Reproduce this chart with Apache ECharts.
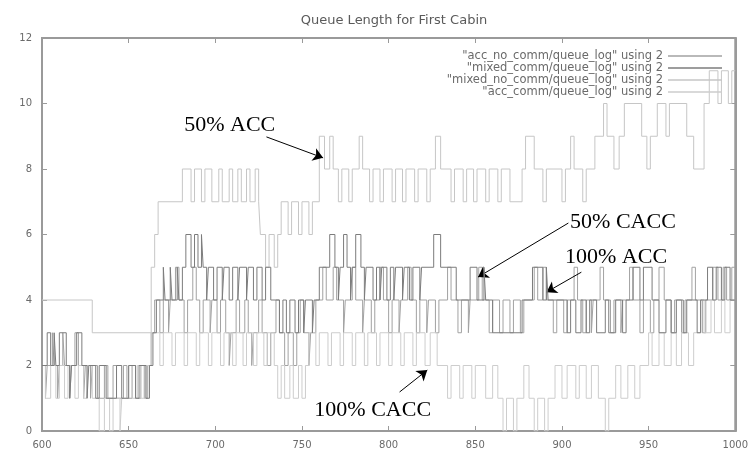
<!DOCTYPE html>
<html>
<head>
<meta charset="utf-8">
<script src="https://cdn.jsdelivr.net/npm/echarts@6/dist/echarts.min.js"></script>
<style>html,body{margin:0;padding:0;background:#fff;}#c{width:751px;height:463px;}</style>
</head>
<body>
<div id="c"></div>
<script>
var titleText = 'Queue Length for First Cabin';
var seriesNames = [
  '"acc_no_comm/queue_log" using 2',
  '"mixed_comm/queue_log" using 2',
  '"mixed_no_comm/queue_log" using 2',
  '"acc_comm/queue_log" using 2'
];
var xTicks = {min: 600, max: 1000, step: 50};
var yTicks = {min: 0, max: 12, step: 2};

// [time, queue length] change points (value holds until next point)
var accNoComm = [[600,2],[602,1],[603,2],[606,3],[607,2],[609,1],[610,2],[612,3],[613,2],[616,1],[617,2],[619,3],[621,2],[624,1],[625,2],[628,1],[629,2],[632,1],[636,2],[638,1],[641,2],[643,1],[647,2],[649,1],[652,2],[654,1],[657,2],[659,1],[661,2],[663,3],[665,4],[668,3],[670,4],[673,3],[674,4],[677,5],[679,4],[682,3],[684,4],[687,5],[689,4],[691,3],[693,4],[697,3],[698,4],[701,3],[703,4],[706,3],[708,2],[709,3],[712,4],[714,3],[717,4],[719,3],[721,2],[722,3],[725,4],[727,3],[730,2],[732,3],[735,4],[737,3],[740,2],[742,3],[745,2],[747,3],[749,4],[751,3],[754,2],[755,3],[758,4],[762,5],[764,4],[768,5],[770,4],[774,3],[775,4],[779,5],[781,4],[785,3],[786,4],[790,3],[792,4],[795,5],[797,4],[800,3],[802,4],[806,3],[807,4],[811,5],[813,4],[816,3],[818,4],[822,3],[823,4],[827,3],[829,4],[834,5],[836,4],[840,3],[842,4],[846,3],[847,4],[852,5],[854,4],[858,3],[860,4],[864,3],[866,4],[870,3],[872,4],[876,3],[878,4],[884,5],[886,4],[889,5],[891,4],[895,3],[897,4],[901,3],[903,4],[907,5],[909,4],[912,3],[914,4],[917,3],[918,4],[922,5],[924,4],[928,3],[930,4],[934,3],[935,4],[939,5],[941,4],[945,3],[947,4],[951,3],[953,4],[956,5],[959,4],[963,3],[965,4],[969,3],[971,4],[975,5],[977,4],[981,3],[983,4],[987,5],[990,4],[993,5],[995,4],[998,5],[1000,5]];

var mixedComm = [[600,2],[603,3],[605,2],[607,3],[608,2],[610,3],[614,2],[616,1],[617,2],[620,3],[623,2],[626,1],[627,2],[631,1],[633,2],[637,1],[643,2],[646,1],[650,2],[654,1],[656,2],[660,1],[662,2],[664,3],[666,4],[670,5],[671,4],[674,5],[675,4],[678,5],[679,4],[681,5],[683,6],[686,5],[688,6],[690,5],[692,6],[693,5],[695,4],[696,5],[699,4],[701,5],[704,4],[705,5],[708,4],[710,5],[713,4],[714,5],[718,4],[719,5],[722,4],[724,5],[727,4],[729,5],[732,4],[737,3],[739,4],[741,3],[743,4],[746,3],[748,4],[751,3],[752,4],[756,3],[757,4],[760,5],[766,6],[769,5],[771,4],[772,5],[774,6],[776,5],[778,4],[779,5],[781,6],[784,5],[786,4],[787,5],[791,4],[793,5],[795,4],[796,5],[799,4],[801,5],[803,4],[804,5],[808,4],[809,5],[812,4],[814,5],[818,4],[819,5],[826,6],[830,5],[839,4],[847,5],[851,4],[855,5],[856,4],[860,3],[877,4],[883,5],[889,4],[891,5],[892,4],[903,3],[905,4],[908,3],[911,4],[914,3],[916,4],[920,3],[925,4],[927,3],[931,4],[935,3],[937,4],[941,5],[945,4],[947,5],[952,4],[956,3],[960,4],[963,3],[966,4],[970,3],[972,4],[978,3],[980,4],[984,5],[987,4],[989,5],[992,4],[994,5],[997,4],[1000,4]];

var mixedNoComm = [[600,4],[629,3],[663,5],[665,6],[667,7],[681,8],[686,7],[688,8],[692,7],[694,8],[698,7],[702,8],[704,7],[708,8],[710,7],[713,8],[715,7],[718,8],[720,7],[723,8],[725,7],[726,6],[729,5],[731,6],[734,5],[736,6],[738,7],[742,6],[744,7],[748,6],[750,7],[754,6],[756,7],[760,9],[763,8],[766,9],[768,8],[771,7],[773,8],[777,7],[779,8],[783,9],[785,8],[789,7],[791,8],[795,7],[797,8],[802,7],[804,8],[808,7],[810,8],[815,7],[817,8],[822,7],[824,8],[827,9],[830,8],[836,7],[838,8],[843,7],[845,8],[849,7],[851,8],[856,7],[858,8],[863,7],[865,8],[870,7],[877,8],[879,9],[884,8],[889,7],[891,8],[900,7],[902,8],[905,9],[907,8],[912,7],[914,8],[919,9],[924,10],[926,9],[930,8],[933,9],[936,10],[946,9],[949,8],[951,9],[955,10],[960,9],[962,10],[972,9],[976,8],[982,10],[985,11],[990,10],[992,11],[996,10],[998,11],[1000,11]];

var accComm = [[600,2],[602,1],[605,2],[608,1],[610,2],[613,1],[615,2],[619,1],[621,2],[624,1],[626,2],[629,1],[633,0],[636,1],[639,0],[641,1],[645,0],[646,1],[650,2],[652,1],[655,2],[657,1],[660,2],[663,3],[668,2],[670,3],[675,2],[677,3],[682,2],[684,3],[689,2],[691,3],[696,2],[698,3],[703,2],[705,3],[710,2],[712,3],[716,2],[718,3],[722,2],[724,3],[728,2],[730,3],[734,2],[736,1],[738,2],[740,1],[743,2],[745,1],[748,2],[750,1],[752,2],[754,3],[758,2],[760,3],[765,2],[767,3],[772,2],[774,3],[779,2],[781,3],[786,2],[788,3],[793,2],[795,3],[800,2],[802,3],[807,2],[809,3],[814,2],[816,3],[821,2],[824,3],[828,2],[834,1],[836,2],[841,1],[843,2],[848,1],[850,2],[856,1],[860,2],[863,1],[866,0],[868,1],[872,0],[874,1],[878,2],[881,1],[884,0],[886,1],[890,0],[892,1],[896,2],[900,1],[903,2],[908,1],[910,2],[914,1],[917,2],[921,1],[925,0],[927,1],[931,2],[934,1],[938,2],[942,1],[945,2],[950,3],[952,2],[956,3],[959,2],[963,3],[966,2],[969,3],[973,2],[976,3],[980,4],[982,3],[986,4],[988,3],[992,4],[994,3],[997,4],[1000,4]];

// annotation labels and arrows, in data coordinates
var annotLabels = ['50% ACC', '50% CACC', '100% ACC', '100% CACC'];
var annotLabelAt = [[708.3, 9.34], [935.2, 6.38], [931.2, 5.31], [790.8, 0.64]];
var annotArrowFrom = [[729.5, 8.98], [903.7, 6.35], [911.2, 4.85], [806.3, 1.19]];
var annotArrowTo = [[762.2, 8.34], [851.6, 4.70], [891.1, 4.24], [822.3, 1.86]];

var seriesData = [accNoComm, mixedComm, mixedNoComm, accComm];
var seriesColors = ['#a2a2a2', '#7c7c7c', '#c6c6c6', '#cdcdcd'];

var chart = echarts.init(document.getElementById('c'));
var axisGray = '#9a9a9a';
var labelStyle = {color: '#6a6a6a', fontSize: 10, fontFamily: 'DejaVu Sans'};

function mkX(pos, showLabel) {
  return {
    type: 'value', show: true, gridIndex: 0, position: pos, min: xTicks.min, max: xTicks.max, interval: xTicks.step,
    axisLine: {show: true, onZero: false, lineStyle: {color: axisGray, width: 2}},
    axisTick: {show: true, inside: true, length: 5, lineStyle: {color: axisGray}},
    axisLabel: Object.assign({show: showLabel, margin: 9, formatter: function (v) { return String(v); }}, labelStyle),
    splitLine: {show: false}
  };
}
function mkY(pos, showLabel) {
  return {
    type: 'value', show: true, gridIndex: 0, position: pos, min: yTicks.min, max: yTicks.max, interval: yTicks.step,
    axisLine: {show: true, onZero: false, lineStyle: {color: axisGray, width: 2}},
    axisTick: {show: true, inside: true, length: 5, lineStyle: {color: axisGray}},
    axisLabel: Object.assign({show: showLabel, margin: 10}, labelStyle),
    splitLine: {show: false}
  };
}

var series = seriesNames.map(function (n, i) {
  return {
    name: n, type: 'line', step: 'end', data: seriesData[i],
    xAxisIndex: 0, yAxisIndex: 0,
    showSymbol: false, symbol: 'none',
    lineStyle: {color: seriesColors[i], width: 1},
    itemStyle: {color: seriesColors[i]},
    z: i === 1 ? 5 : 2
  };
});
series[0].markLine = {
  silent: true, symbol: ['none', 'arrow'], symbolSize: 10,
  lineStyle: {color: '#000', width: 1, type: 'solid'},
  label: {show: false},
  data: annotArrowFrom.map(function (f, i) {
    return [{coord: f}, {coord: annotArrowTo[i]}];
  })
};
series[0].markPoint = {
  silent: true, symbol: 'circle', symbolSize: 0,
  label: {show: true, position: 'inside', color: '#000', fontSize: 22, fontFamily: 'Liberation Serif', formatter: '{b}'},
  data: annotLabels.map(function (t, i) { return {name: t, coord: annotLabelAt[i]}; })
};

chart.setOption({
  animation: false,
  backgroundColor: '#fff',
  title: {
    text: titleText, left: 389, top: 9, textAlign: 'center',
    textStyle: {color: '#5a5a5a', fontSize: 13, fontWeight: 'normal', fontFamily: 'DejaVu Sans'}
  },
  legend: {
    orient: 'vertical', right: 24, top: 45, align: 'right',
    icon: 'rect', itemWidth: 54, itemHeight: 1.5, itemGap: 0,
    textStyle: {color: '#6a6a6a', fontSize: 11.5, fontFamily: 'DejaVu Sans', lineHeight: 12},
    data: seriesNames
  },
  grid: {left: 42, right: 11, top: 38, bottom: 32, show: true, borderColor: axisGray, borderWidth: 2, backgroundColor: 'transparent'},
  xAxis: [mkX('bottom', true), mkX('top', false)],
  yAxis: [mkY('left', true), mkY('right', false)],
  series: series
});
</script>
</body>
</html>
